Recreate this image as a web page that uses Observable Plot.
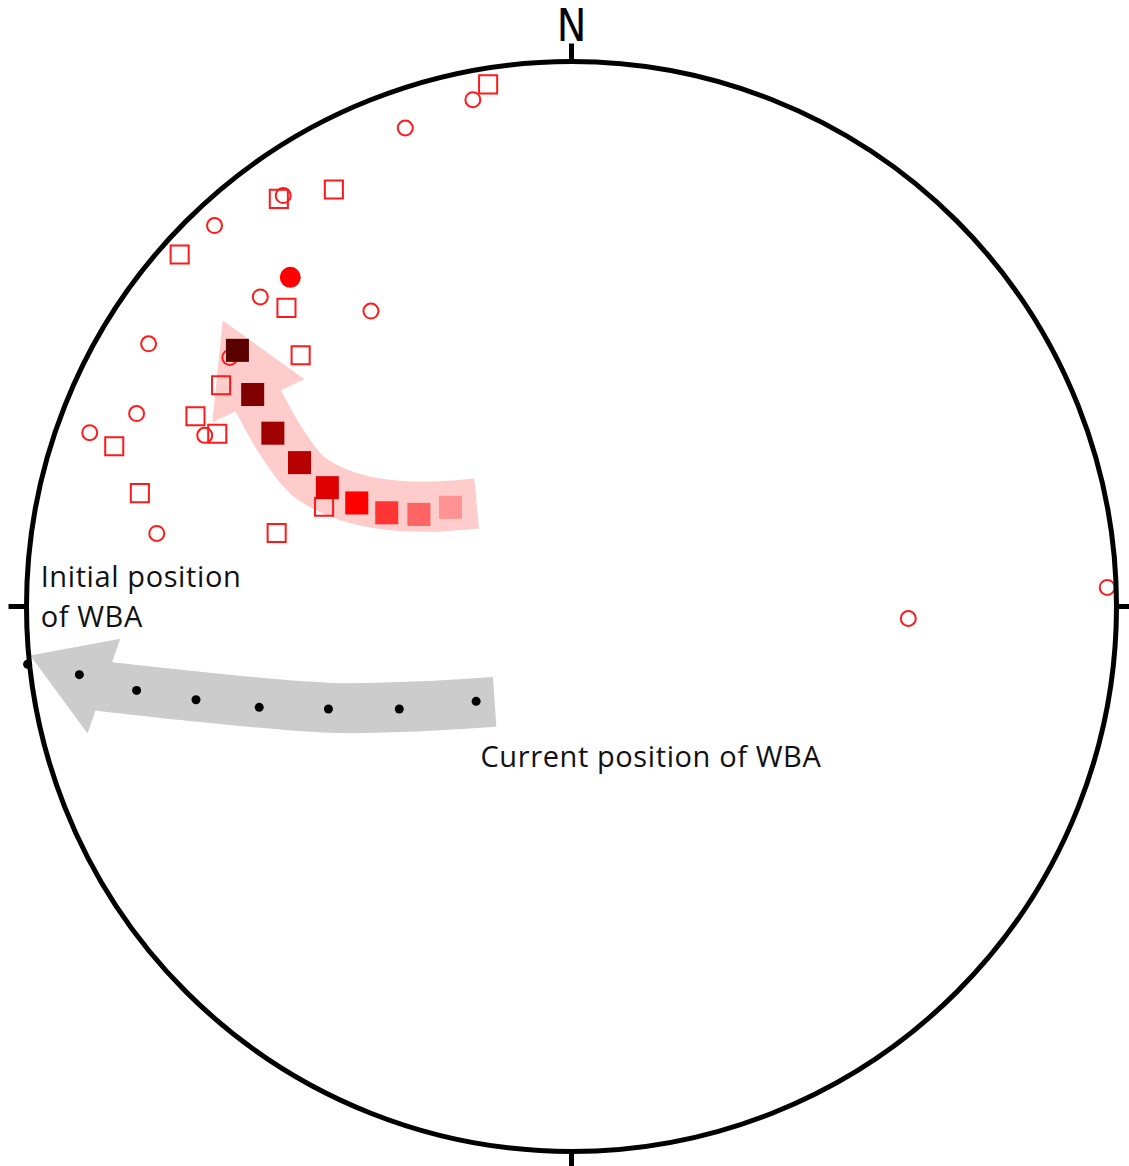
<!DOCTYPE html>
<html>
<head>
<meta charset="utf-8">
<script src="https://cdn.jsdelivr.net/npm/d3@7"></script>
<script src="https://cdn.jsdelivr.net/npm/@observablehq/plot@0.6"></script>
<style>
  html, body { margin: 0; padding: 0; background: #fff; }
  #chart svg { display: block; }
  #chart g[font-size="29"] text { letter-spacing: 0.6px; }
</style>
</head>
<body>
<div id="chart"></div>
<script>
// Projected positions on the unit primitive circle (x east, y north)
const openCircles = [
  [-0.181, 0.930], [-0.305, 0.878], [-0.529, 0.754], [-0.655, 0.699],
  [-0.571, 0.568], [-0.368, 0.542], [-0.776, 0.482], [-0.627, 0.457],
  [-0.798, 0.354], [-0.884, 0.319], [-0.673, 0.314], [-0.761, 0.134],
  [0.618, -0.022], [0.983, 0.035]
];
const openSquares = [
  [-0.153, 0.958], [-0.537, 0.748], [-0.436, 0.765], [-0.719, 0.646],
  [-0.523, 0.548], [-0.497, 0.461], [-0.643, 0.406], [-0.690, 0.349],
  [-0.650, 0.317], [-0.839, 0.294], [-0.792, 0.208], [-0.454, 0.183],
  [-0.541, 0.135]
];
const meanPole = [[-0.516, 0.604]];
// rotation path of the poles (step 1 = oldest … step 9 = youngest)
const pathSteps = [1, 2, 3, 4, 5, 6, 7, 8, 9];
const pathX = [-0.613, -0.585, -0.548, -0.499, -0.448, -0.394, -0.339, -0.280, -0.222];
const pathY = [0.470, 0.389, 0.318, 0.264, 0.218, 0.190, 0.172, 0.169, 0.182];
// WBA positions
const wbaX = [-0.998, -0.903, -0.798, -0.689, -0.573, -0.446, -0.316, -0.175];
const wbaY = [-0.106, -0.125, -0.154, -0.171, -0.185, -0.188, -0.188, -0.174];
// arrow guides
const pinkShaft = [[-0.174, 0.189], [-0.268, 0.183], [-0.354, 0.189], [-0.424, 0.207],
  [-0.484, 0.240], [-0.534, 0.305], [-0.574, 0.376], [-0.592, 0.412]];
const pinkHead = [[-0.640, 0.525], [-0.490, 0.417], [-0.659, 0.338]];
const grayShaft = [[-0.141, -0.175], [-0.277, -0.183], [-0.442, -0.186], [-0.681, -0.166], [-0.855, -0.147], [-0.890, -0.143]];
const grayHead = [[-0.993, -0.090], [-0.828, -0.059], [-0.888, -0.233]];
// annotations
const labelText = ["Initial position\nof WBA", "Current position of WBA"];
const labelX = [-0.974, -0.167];
const labelY = [-0.0385, -0.295];
const cardinals = ["N", "E", "S", "W"];
const cardinalDX = [0, 1, 0, -1];
const cardinalDY = [1, 0, -1, 0];

const stepPalette = ["#5a0000", "#800000", "#a00000", "#b80000", "#dd0000", "#ff0000", "#ff3535", "#ff6464", "#ff9292"];

const path = pathSteps.map((s, i) => ({step: s, x: pathX[i], y: pathY[i]}));
const wba = wbaX.map((x, i) => ({x, y: wbaY[i]}));
const labels = labelText.map((t, i) => ({text: t, x: labelX[i], y: labelY[i]}));
const cards = cardinals.map((c, i) => ({c, dx: cardinalDX[i], dy: cardinalDY[i]}));
const primitive = [{x: 0, y: 0, r: 1}];

const px = d => d[0], py = d => d[1];
const red = "#ff1a1a";

const chart = Plot.plot({
  width: 1129,
  height: 1166,
  marginLeft: 26,
  marginRight: 13,
  marginTop: 61,
  marginBottom: 15,
  x: {domain: [-1, 1], axis: null},
  y: {domain: [-1, 1], axis: null},
  r: {type: "linear", domain: [0, 1], range: [0, 545]},
  color: {type: "ordinal", domain: pathSteps, range: stepPalette},
  style: {background: "#fff", overflow: "visible"},
  marks: [
    // rotation arrows
    Plot.line(pinkShaft, {x: px, y: py, curve: "catmull-rom", stroke: "#ffcccc", strokeWidth: 50, strokeLinecap: "butt"}),
    Plot.line(pinkHead, {x: px, y: py, fill: "#ffcccc", stroke: "none"}),
    Plot.line(grayShaft, {x: px, y: py, curve: "catmull-rom", stroke: "#cccccc", strokeWidth: 50, strokeLinecap: "butt"}),
    Plot.line(grayHead, {x: px, y: py, fill: "#cccccc", stroke: "none"}),
    // poles
    Plot.dot(openCircles, {x: px, y: py, r: 7.5, symbol: "circle", stroke: red, strokeWidth: 2, fill: "none"}),
    Plot.dot(openSquares, {x: px, y: py, r: 10.2, symbol: "square", stroke: red, strokeWidth: 2, fill: "none"}),
    Plot.dot(meanPole, {x: px, y: py, r: 10.5, fill: "#ff0000"}),
    Plot.dot(path, {x: "x", y: "y", r: 13, symbol: "square", fill: "step"}),
    // primitive circle and cardinal ticks
    Plot.dot(primitive, {x: "x", y: "y", r: "r", stroke: "#000", strokeWidth: 5, fill: "none"}),
    Plot.link(cards, {x1: d => d.dx, y1: d => d.dy, x2: d => d.dx * 1.033, y2: d => d.dy * 1.033, stroke: "#000", strokeWidth: 5}),
    Plot.text(cards.filter(d => d.c === "N"), {x: d => d.dx, y: d => d.dy, text: "c", dy: -35, fontSize: 44,
      fontFamily: "'Liberation Sans Narrow', 'DejaVu Sans Condensed', 'Liberation Sans', sans-serif", fill: "#000"}),
    // WBA positions
    Plot.dot(wba, {x: "x", y: "y", r: 4.5, fill: "#000"}),
    // labels
    Plot.text(labels, {x: "x", y: "y", text: "text", textAnchor: "start", lineAnchor: "bottom",
      fontSize: 29, lineHeight: 40 / 29, fontFamily: "'Open Sans', Lato, sans-serif", fill: "#111"})
  ]
});
document.getElementById("chart").appendChild(chart);
</script>
</body>
</html>
